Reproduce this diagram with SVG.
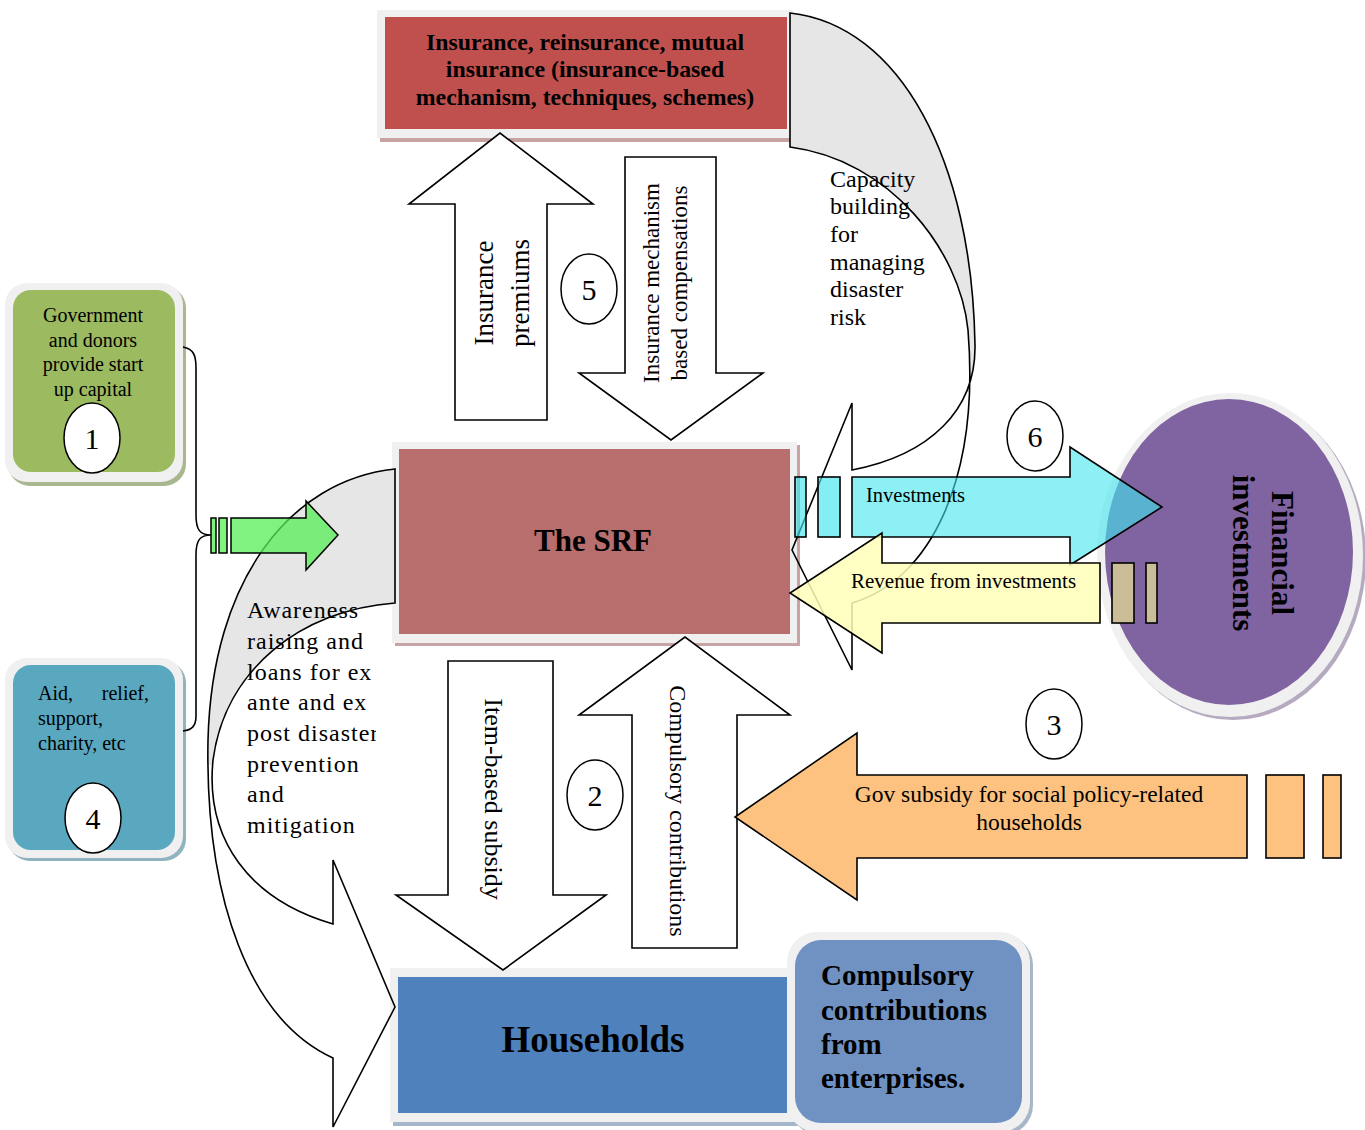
<svg xmlns="http://www.w3.org/2000/svg" width="1365" height="1130" viewBox="0 0 1365 1130">
<defs>
<style>
.t{font-family:"Liberation Serif","Times New Roman",serif;fill:#000}
.b{font-weight:bold}
.w{fill:#fff;stroke:#000;stroke-width:1.6;stroke-linejoin:miter}
.ln{fill:none;stroke:#000;stroke-width:1.6}
.fr{fill:#f0f0f0}
.c{fill:#fff;stroke:#000;stroke-width:1.5}
.n{font-size:30px;text-anchor:middle}
.gray{fill:#e6e6e6;stroke:none}
</style>
<clipPath id="cR"><rect x="780" y="0" width="220" height="392"/></clipPath>
<clipPath id="cL"><rect x="190" y="450" width="220" height="315"/></clipPath>
<clipPath id="cT"><rect x="240" y="590" width="136" height="260"/></clipPath>
</defs>
<rect width="1365" height="1130" fill="#fff"/>

<g id="insurance-box">
<rect x="380" y="13" width="416" height="129" fill="#c9a3a3"/>
<rect x="377" y="10" width="416" height="128" class="fr"/>
<rect x="385" y="17" width="402" height="112" fill="#c0504d"/>
<text class="t b" font-size="23.8" text-anchor="middle"><tspan x="585" y="50">Insurance, reinsurance, mutual</tspan><tspan x="585" y="77">insurance (insurance-based</tspan><tspan x="585" y="105">mechanism, techniques, schemes)</tspan></text>
</g>

<g id="srf">
<rect x="395" y="445" width="405" height="201" fill="#c7a3a3"/>
<rect x="392" y="442" width="405" height="201" class="fr"/>
<rect x="399" y="449" width="391" height="185" fill="#b76e6d"/>
<text class="t b" font-size="31" x="593" y="551" text-anchor="middle">The SRF</text>
</g>

<g id="households">
<rect x="393" y="971" width="405" height="155" fill="#a5b5cc"/>
<rect x="390" y="968" width="405" height="154" class="fr"/>
<rect x="398" y="977" width="389" height="136" fill="#4f81bd"/>
<text class="t b" font-size="37" x="593" y="1052" text-anchor="middle">Households</text>
</g>

<g id="compulsory-box">
<rect x="790" y="935" width="243" height="200" rx="30" fill="#a8b6ca"/>
<rect x="787" y="932" width="243" height="200" rx="30" class="fr"/>
<rect x="795" y="940" width="227" height="183" rx="26" fill="#6f92c2"/>
<text class="t b" font-size="29"><tspan x="821" y="985">Compulsory</tspan><tspan x="821" y="1020">contributions</tspan><tspan x="821" y="1054">from</tspan><tspan x="821" y="1088">enterprises.</tspan></text>
</g>

<g id="government-box">
<rect x="8" y="286" width="178" height="200" rx="22" fill="#a9b78f"/>
<rect x="5" y="283" width="178" height="199" rx="22" class="fr"/>
<rect x="13" y="290" width="162" height="182" rx="18" fill="#9cba60"/>
<text class="t" font-size="20" text-anchor="middle"><tspan x="93" y="322">Government</tspan><tspan x="93" y="347">and donors</tspan><tspan x="93" y="371">provide start</tspan><tspan x="93" y="396">up capital</tspan></text>
</g>

<g id="aid-box">
<rect x="8" y="661" width="178" height="200" rx="22" fill="#8fb3bf"/>
<rect x="5" y="658" width="178" height="200" rx="22" class="fr"/>
<rect x="13" y="665" width="162" height="185" rx="18" fill="#5aa8bf"/>
<text class="t" font-size="20"><tspan x="38" y="700">Aid,</tspan><tspan x="38" y="725">support,</tspan><tspan x="38" y="750">charity, etc</tspan></text>
<text class="t" font-size="20" x="149" y="700" text-anchor="end">relief,</text>
</g>

<g id="financial-investments">
<ellipse cx="1233" cy="558" rx="133" ry="162" fill="#b5aabf"/>
<ellipse cx="1230" cy="555" rx="133" ry="162" class="fr"/>
<ellipse cx="1229" cy="552" rx="124" ry="153" fill="#8064a2"/>
<g transform="translate(1272,553) rotate(90)"><text class="t b" font-size="31" text-anchor="middle"><tspan x="0" y="0">Financial</tspan><tspan x="0" y="39">investments</tspan></text></g>
</g>

<g id="connectors">
<g id="brace"><path class="ln" d="M183,347 C194,349 196,356 196,368 L196,515 C196,530 200,535 211,535 C200,535 196,540 196,555 L196,716 C196,726 192,730 183,731"/></g>

<g id="arrow-premiums">
<polygon class="w" points="455,420 455,204 409,204 500,133 593,204 547,204 547,420"/>
<g transform="translate(493,293) rotate(-90)"><text class="t" font-size="27" text-anchor="middle"><tspan x="0" y="0">Insurance</tspan><tspan x="0" y="36">premiums</tspan></text></g>
</g>
<g id="arrow-compensations">
<polygon class="w" points="625,157 716,157 716,373 763,373 671,440 579,373 625,373"/>
<g transform="translate(659,283) rotate(-90)"><text class="t" font-size="23" text-anchor="middle"><tspan x="0" y="0">Insurance mechanism</tspan><tspan x="0" y="28">based compensations</tspan></text></g>
</g>
<g id="arrow-item-subsidy">
<polygon class="w" points="448,661 553,661 553,895 606,895 503,970 396,895 448,895"/>
<g transform="translate(485,799) rotate(90)"><text class="t" font-size="26" text-anchor="middle" x="0" y="0">Item-based subsidy</text></g>
</g>
<g id="arrow-compulsory">
<polygon class="w" points="632,948 632,715 579,715 685,637 790,715 737,715 737,948"/>
<g transform="translate(670,811) rotate(90)"><text class="t" font-size="24" text-anchor="middle" x="0" y="0">Compulsory contributions</text></g>
</g>

<g id="arrow-capacity">
<path class="gray" clip-path="url(#cR)" d="M790,13 C900,25 972,160 975,345 C976,410 930,455 852,470 L852,403 L792,550 L852,670 L852,603 C930,580 980,480 968,330 C960,250 890,160 790,147 Z"/>
<path class="ln" d="M790,13 C900,25 972,160 975,345 C976,410 930,455 852,470 L852,403 L792,550 L852,670 L852,603 C930,580 980,480 968,330 C960,250 890,160 790,147 Z"/>
<text class="t" font-size="24"><tspan x="830" y="187">Capacity</tspan><tspan x="830" y="214">building</tspan><tspan x="830" y="242">for</tspan><tspan x="830" y="270">managing</tspan><tspan x="830" y="297">disaster</tspan><tspan x="830" y="325">risk</tspan></text>
</g>

<g id="arrow-awareness">
<path class="gray" clip-path="url(#cL)" d="M395,469 C290,480 212,580 208,740 C205,900 250,1020 333,1058 L333,1127 L395,1007 L333,860 L333,924 C250,900 205,840 213,760 C225,670 300,610 395,603 Z"/>
<path class="ln" d="M395,469 C290,480 212,580 208,740 C205,900 250,1020 333,1058 L333,1127 L395,1007 L333,860 L333,924 C250,900 205,840 213,760 C225,670 300,610 395,603 Z"/>
<g clip-path="url(#cT)"><text class="t" font-size="24" letter-spacing="1"><tspan x="247" y="618">Awareness</tspan><tspan x="247" y="649">raising and</tspan><tspan x="247" y="680">loans for ex</tspan><tspan x="247" y="710">ante and ex</tspan><tspan x="247" y="741">post disaster</tspan><tspan x="247" y="772">prevention</tspan><tspan x="247" y="802">and</tspan><tspan x="247" y="833">mitigation</tspan></text></g>
</g>

<g id="arrow-startup" fill="#55ee55" fill-opacity="0.75" stroke="#000" stroke-width="1.5">
<rect x="211" y="518" width="5" height="35"/>
<rect x="219" y="518" width="8" height="35"/>
<polygon points="231,518 306,518 306,501 338,535 306,570 306,553 231,553"/>
</g>

<g id="arrow-investments" stroke="#000" stroke-width="1.6">
<rect x="795" y="477" width="11" height="60" fill="#40e6ee" fill-opacity="0.65"/>
<rect x="818" y="477" width="22" height="60" fill="#40e6ee" fill-opacity="0.65"/>
<polygon points="852,477 1070,477 1070,447 1162,507 1070,565 1070,537 852,537" fill="#40e6ee" fill-opacity="0.6"/>
<text class="t" font-size="20.5" x="866" y="502" stroke="none">Investments</text>
</g>

<g id="arrow-revenue" stroke="#000" stroke-width="1.6">
<polygon points="1100,563 882,563 882,533 790,593 882,653 882,623 1100,623" fill="#ffffb8" fill-opacity="0.85"/>
<rect x="1112" y="563" width="22" height="60" fill="#cbbd98"/>
<rect x="1146" y="563" width="11" height="60" fill="#cbbd98"/>
<text class="t" font-size="21" x="851" y="588" stroke="none">Revenue from investments</text>
</g>

<g id="arrow-gov-subsidy" stroke="#000" stroke-width="1.6" fill="#fdc27f">
<polygon points="1247,775 857,775 857,733 735,817 857,900 857,858 1247,858"/>
<rect x="1266" y="775" width="38" height="83"/>
<rect x="1323" y="775" width="18" height="83"/>
<text class="t" font-size="23.5" text-anchor="middle" stroke="none" fill="#000"><tspan x="1029" y="802">Gov subsidy for social policy-related</tspan><tspan x="1029" y="830">households</tspan></text>
</g>
</g>

<g id="num-1"><ellipse class="c" cx="92" cy="438" rx="28" ry="35"/><text class="t n" x="92" y="449">1</text></g>
<g id="num-4"><ellipse class="c" cx="93" cy="818" rx="28" ry="35"/><text class="t n" x="93" y="829">4</text></g>
<g id="num-5"><ellipse class="c" cx="589" cy="289" rx="28" ry="35"/><text class="t n" x="589" y="300">5</text></g>
<g id="num-2"><ellipse class="c" cx="595" cy="795" rx="28" ry="35"/><text class="t n" x="595" y="806">2</text></g>
<g id="num-3"><ellipse class="c" cx="1054" cy="724" rx="28" ry="35"/><text class="t n" x="1054" y="735">3</text></g>
<g id="num-6"><ellipse class="c" cx="1035" cy="436" rx="28" ry="35"/><text class="t n" x="1035" y="447">6</text></g>
</svg>
